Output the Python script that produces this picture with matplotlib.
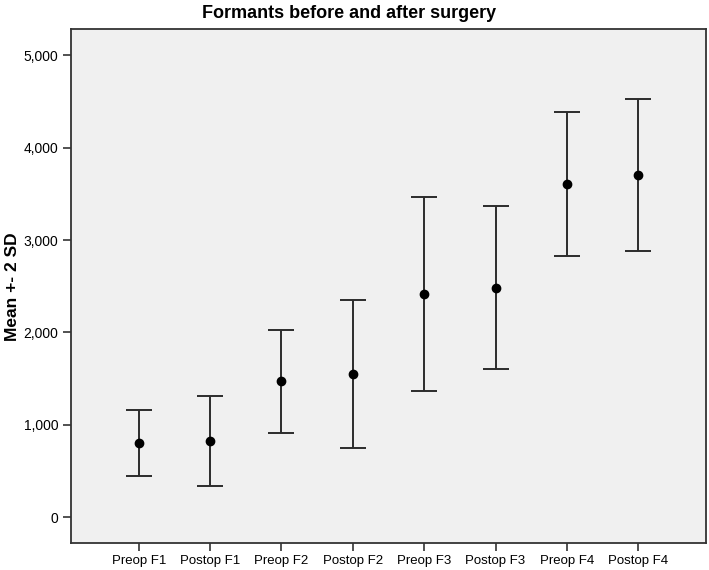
import numpy as np
import matplotlib.pyplot as plt

plt.rcParams['font.family'] = ['Liberation Sans', 'DejaVu Sans']

# Data (mean and mean +- 2 SD)
labels = ['Preop F1', 'Postop F1', 'Preop F2', 'Postop F2',
          'Preop F3', 'Postop F3', 'Preop F4', 'Postop F4']
means = [805, 827, 1472, 1555, 2416, 2484, 3609, 3706]
upper = [1165, 1317, 2030, 2355, 3465, 3364, 4387, 4528]
lower = [449, 341, 914, 755, 1368, 1605, 2830, 2881]

x = np.arange(1, len(labels) + 1)
means = np.array(means)
yerr = [means - np.array(lower), np.array(upper) - means]

fig = plt.figure(figsize=(7.09, 5.70), dpi=100)
ax = fig.add_axes([0.1001, 0.0474, 0.8957, 0.9016])
ax.set_facecolor('#f0f0f0')

ax.errorbar(x, means, yerr=yerr, fmt='o', color='black', ecolor='#2b2b2b',
            elinewidth=1.4, capsize=9.5, capthick=1.4, markersize=6)

ax.set_xlim(0.05, 8.95)
ax.set_ylim(-276, 5281)
ax.set_xticks(x)
ax.set_xticklabels(labels, fontsize=9.5)
ax.set_yticks(np.arange(0, 5001, 1000))
ax.set_yticklabels(['{:,}'.format(v) for v in range(0, 5001, 1000)], fontsize=10)
ax.tick_params(axis='both', length=6, width=1.2, color='#333333', pad=3)

for s in ax.spines.values():
    s.set_linewidth(1.3)
    s.set_color('#333333')

# y label placed by hand between the figure edge and the tick labels
fig.text(13 / 709, 0.497, 'Mean +- 2 SD', rotation=90, ha='center', va='center',
         fontsize=12.5, fontweight='bold')
fig.text(0.492, 0.976, 'Formants before and after surgery', ha='center', va='center',
         fontsize=13, fontweight='bold')

plt.savefig('out.png', dpi=100)
